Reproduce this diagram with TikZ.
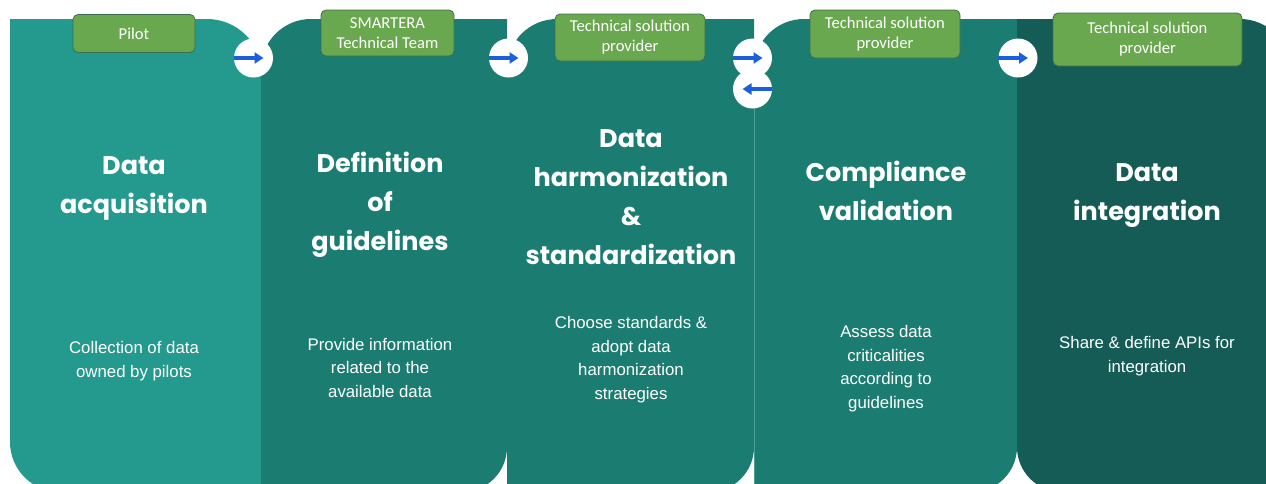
\documentclass[tikz,border=0pt]{standalone}
\usepackage{fontspec}
\setmainfont{Liberation Sans}
\newfontfamily\titlefont{Poppins}
\newfontfamily\labelfont{Carlito}
\usetikzlibrary{arrows.meta}
\definecolor{pone}{HTML}{249A8F}
\definecolor{pmid}{HTML}{1B7D72}
\definecolor{pfive}{HTML}{145C55}
\definecolor{pline}{HTML}{4E9D94}
\definecolor{lblfill}{HTML}{6AA84F}
\definecolor{lbldraw}{HTML}{3C6E4E}
\definecolor{arrblue}{HTML}{1A5FDB}
\tikzset{
  titletext/.style={text=white, align=center, inner sep=0pt, font=\titlefont\bfseries\fontsize{25.5}{39}\selectfont},
  bodytext/.style={text=white, align=center, inner sep=0pt, font=\fontsize{16.8}{23.5}\selectfont},
  rolebox/.style={fill=lblfill, draw=lbldraw, line width=0.8pt, rounded corners=5pt, text=white, align=center, inner sep=0pt, font=\labelfont\fontsize{16.6}{20}\selectfont},
  knob/.style={circle, fill=white, minimum size=39pt, inner sep=0pt},
  flowarrow/.style={draw=arrblue, line width=3.4pt, -{Triangle[length=9pt,width=11pt]}}
}
\begin{document}
\begin{tikzpicture}[x=1pt,y=-1pt]
\useasboundingbox (0,0) rectangle (1266,483);
\clip (0,0) rectangle (1266,483);
\fill[white] (0,0) rectangle (1266,483);
% panels
\fill[pone] (10,19) -- (207,19) arc(270:360:55) -- (262,492) -- (60,492) arc(90:180:50) -- cycle;
\fill[pmid] (261,69) arc(180:270:50) -- (507,19) -- (507,447) arc(0:90:45) -- (261,492) -- cycle;
\fill[pmid] (507,69) arc(180:270:50) -- (754,19) -- (754,447) arc(0:90:45) -- (507,492) -- cycle;
\fill[pmid] (754,69) arc(180:270:50) -- (1017,19) -- (1017,447) arc(0:90:45) -- (754,492) -- cycle;
\draw[pline, line width=0.7pt] (754,80) -- (754,492);
\fill[pfive] (1017,19) -- (1240,19) arc(270:360:50) -- (1290,492) -- (1062,492) arc(90:180:45) -- cycle;
% knobs and arrows
\node[knob] (k1) at (253.5,58) {};
\node[knob] (k2) at (508.5,58) {};
\node[knob] (k3) at (752.5,58) {};
\node[knob] (k4) at (752.5,89) {};
\node[knob] (k5) at (1018,58) {};
\draw[flowarrow] (k1.west) -- ([xshift=10pt]k1.center);
\draw[flowarrow] (k2.west) -- ([xshift=10pt]k2.center);
\draw[flowarrow] (k3.west) -- ([xshift=10pt]k3.center);
\draw[flowarrow] (k4.east) -- ([xshift=-10pt]k4.center);
\draw[flowarrow] (k5.west) -- ([xshift=10pt]k5.center);
% role labels
\node[rolebox, minimum width=122pt, minimum height=38pt] (r1) at (134,33.5) {Pilot};
\node[rolebox, minimum width=133pt, minimum height=46pt] (r2) at (387.5,33) {SMARTERA\\Technical Team};
\node[rolebox, minimum width=150pt, minimum height=47pt] (r3) at (630,37.5) {Technical solution\\provider};
\node[rolebox, minimum width=150pt, minimum height=48pt] (r4) at (885,34) {Technical solution\\provider};
\node[rolebox, minimum width=189pt, minimum height=53pt] (r5) at (1147.5,39.5) {Technical solution\\provider};
% titles
\node[titletext] (t1) at (134,188) {Data\\acquisition};
\node[titletext] (t2) at (380,205) {Definition\\of\\guidelines};
\node[titletext] (t3) at (631,197) {Data\\harmonization\\\&\\standardization};
\node[titletext] (t4) at (886,191) {Compliance\\validation};
\node[titletext] (t5) at (1147,196) {Data\\integration};
% descriptions
\node[bodytext] (d1) at (134,361) {Collection of data\\owned by pilots};
\node[bodytext] (d2) at (380,367.5) {Provide information\\related to the\\available data};
\node[bodytext] (d3) at (631,359.5) {Choose standards \&\\adopt data\\harmonization\\strategies};
\node[bodytext] (d4) at (886,368.5) {Assess data\\criticalities\\according to\\guidelines};
\node[bodytext] (d5) at (1147,356) {Share \& define APIs for\\integration};
\end{tikzpicture}
\end{document}
